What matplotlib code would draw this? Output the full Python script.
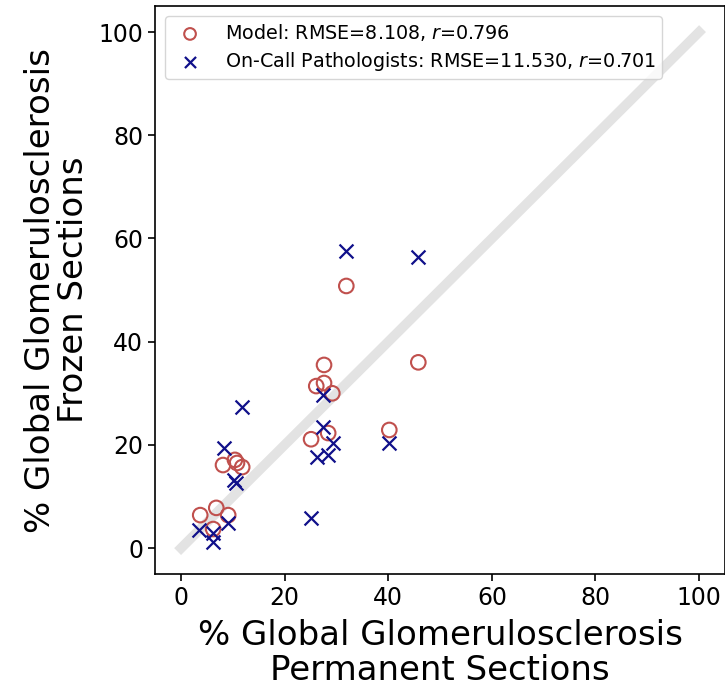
import matplotlib
matplotlib.use('Agg')
import matplotlib.pyplot as plt

# permanent-section % (x) vs frozen-section % (y)
model_x = [3.7, 6.2, 6.8, 8.1, 9.1, 10.4, 10.8, 11.8, 25.1, 26.1, 27.6, 27.6,
           28.4, 29.2, 31.9, 40.2, 45.8]
model_y = [6.4, 3.7, 7.8, 16.1, 6.4, 17.1, 16.5, 15.7, 21.1, 31.4, 35.5, 32.0,
           22.3, 30.0, 50.8, 22.9, 36.0]

path_x = [3.5, 6.2, 6.2, 8.3, 9.1, 10.2, 10.6, 11.8, 25.1, 26.3, 27.4, 27.4,
          28.4, 29.3, 31.9, 40.2, 45.8]
path_y = [3.5, 2.9, 1.2, 19.4, 4.8, 13.2, 12.6, 27.3, 5.8, 17.6, 29.7, 23.4,
          18.0, 20.3, 57.6, 20.3, 56.4]

model_label = 'Model: RMSE=8.108, $r$=0.796'
path_label = 'On-Call Pathologists: RMSE=11.530, $r$=0.701'

fig = plt.figure(figsize=(7.25, 6.94), dpi=100)
ax = fig.add_axes([0.214, 0.173, 0.786, 0.818])

ax.plot([0, 100], [0, 100], color='#e3e3e3', linewidth=7, zorder=1)
ax.scatter(model_x, model_y, s=110, facecolors='none', edgecolors='#c0504d',
           linewidths=1.5, label=model_label, zorder=3)
ax.scatter(path_x, path_y, s=100, marker='x', color='#10108a',
           linewidths=1.6, label=path_label, zorder=4)

ax.set_xlim(-5, 105)
ax.set_ylim(-5, 105)
ticks = [0, 20, 40, 60, 80, 100]
ax.set_xticks(ticks)
ax.set_yticks(ticks)
ax.tick_params(labelsize=17, length=5, width=1.2)
for sp in ax.spines.values():
    sp.set_linewidth(1.2)
ax.set_xlabel('% Global Glomerulosclerosis\nPermanent Sections', fontsize=24.5,
              labelpad=7, linespacing=1.05)
ax.set_ylabel('% Global Glomerulosclerosis\nFrozen Sections', fontsize=24.5,
              labelpad=6, linespacing=1.0)
ax.legend(loc='upper left', fontsize=13.8, handletextpad=0.8,
          borderaxespad=0.5, labelspacing=0.35, borderpad=0.32,
          markerscale=0.8)

fig.savefig('out.png', dpi=100)
